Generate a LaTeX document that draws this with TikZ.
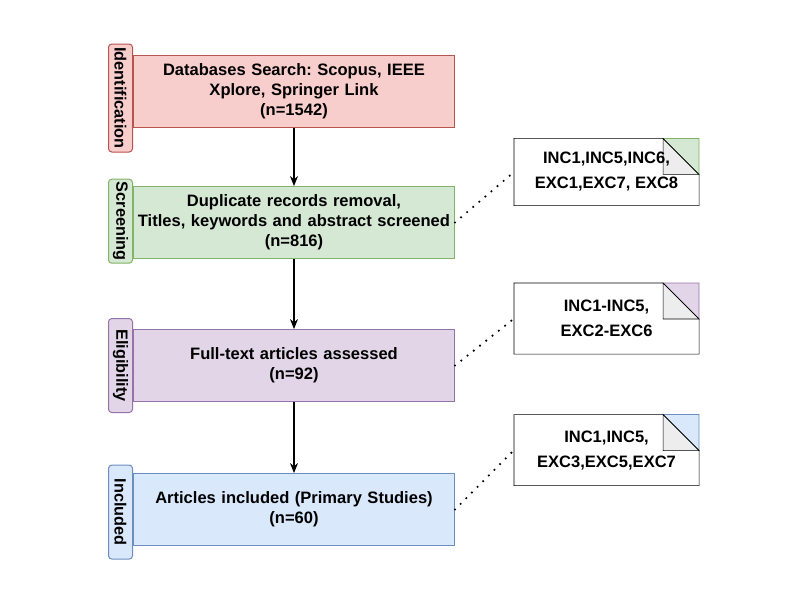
\documentclass[tikz,border=0pt]{standalone}
\usepackage{fontspec}
\setmainfont{Liberation Sans}
\usepackage{tikz}
\usetikzlibrary{positioning,arrows.meta,backgrounds}
\frenchspacing

\definecolor{idfill}{HTML}{F8CECC}
\definecolor{iddraw}{HTML}{B85450}
\definecolor{scfill}{HTML}{D5E8D4}
\definecolor{scdraw}{HTML}{82B366}
\definecolor{elfill}{HTML}{E1D5E7}
\definecolor{eldraw}{HTML}{9673A6}
\definecolor{infill}{HTML}{DAE8FC}
\definecolor{indraw}{HTML}{6C8EBF}
\definecolor{foldgray}{HTML}{EDEDED}

\tikzset{
  stage/.style={draw=#1draw, fill=#1fill, line width=0.75pt,
    minimum width=240.75pt, minimum height=54pt, text width=236pt,
    inner xsep=2pt, align=center, font=\bfseries\fontsize{12.4}{15}\selectfont},
  tab/.style={draw=#1draw, fill=#1fill, line width=0.75pt, rounded corners=2.5pt,
    rotate=-90, anchor=north, minimum height=18pt, inner sep=0pt,
    font=\bfseries\fontsize{12.2}{15}\selectfont},
  note/.style={minimum width=138pt, minimum height=52.5pt, align=center,
    font=\bfseries\fontsize{12.4}{18.75}\selectfont},
  dots/.style={line width=1.8pt, line cap=round, dash pattern=on 0pt off 6pt}
}

\begin{document}
\begin{tikzpicture}[>={Stealth[length=7.5pt,width=6pt]}, line width=0.8pt]
\useasboundingbox (0,0) rectangle (600pt,-450pt);
% stages
\node[stage=id](idbox) at (220.5pt,-68.25pt){Databases Search: Scopus, IEEE\\Xplore, Springer Link\\(n=1542)};
\node[stage=sc, below=43.9pt of idbox](scbox){Duplicate records removal,\\Titles, keywords and abstract screened\\(n=816)};
\node[stage=el, below=52.5pt of scbox](elbox){Full-text articles assessed\\(n=92)};
\node[stage=in, below=53.25pt of elbox](inbox){Articles included (Primary Studies)\\(n=60)};

\node[tab=id, minimum width=81pt](idtab) at ([yshift=-5.25pt]idbox.west){Identification};
\node[tab=sc, minimum width=63pt](sctab) at ([yshift=1pt]scbox.west){Screening};
\node[tab=el, minimum width=70.5pt](eltab) at (elbox.west){Eligibility};
\node[tab=in, minimum width=70.5pt](intab) at ([yshift=-1.9pt]inbox.west){Included};

\draw[->] (idbox) -- (scbox);
\draw[->] (scbox) -- (elbox);
\draw[->] (elbox) -- (inbox);

% notes
\node[note, minimum height=49.5pt, right=44.25pt of scbox, yshift=37.9pt](scnote){INC1,INC5,INC6,\\EXC1,EXC7, EXC8};
\node[note, right=44.25pt of elbox, yshift=35.25pt](elnote){INC1-INC5,\\EXC2-EXC6};
\node[note, right=44.25pt of inbox, yshift=44.6pt](innote){INC1,INC5,\\EXC3,EXC5,EXC7};

% folded corners behind the note texts
\begin{scope}[on background layer, line width=0.75pt]
\foreach \n/\c in {scnote/sc, elnote/el, innote/in}
{
  \draw[fill=\c fill, draw=\c draw, line width=0.5pt] ([xshift=-27pt]\n.north east) -- (\n.north east) -- ([yshift=-27pt]\n.north east) -- cycle;
  \draw[fill=foldgray] ([xshift=-27pt]\n.north east) -- ([shift={(-27pt,-27pt)}]\n.north east) -- ([yshift=-27pt]\n.north east) -- cycle;
  \draw (\n.north west) -- ([xshift=-27pt]\n.north east) -- ([yshift=-27pt]\n.north east) -- (\n.south east) -- (\n.south west) -- cycle;
}
\end{scope}

\draw[dots] (scbox.east) -- (scnote.west);
\draw[dots] (elbox.east) -- (elnote.west);
\draw[dots] (inbox.east) -- (innote.west);
\end{tikzpicture}
\end{document}
